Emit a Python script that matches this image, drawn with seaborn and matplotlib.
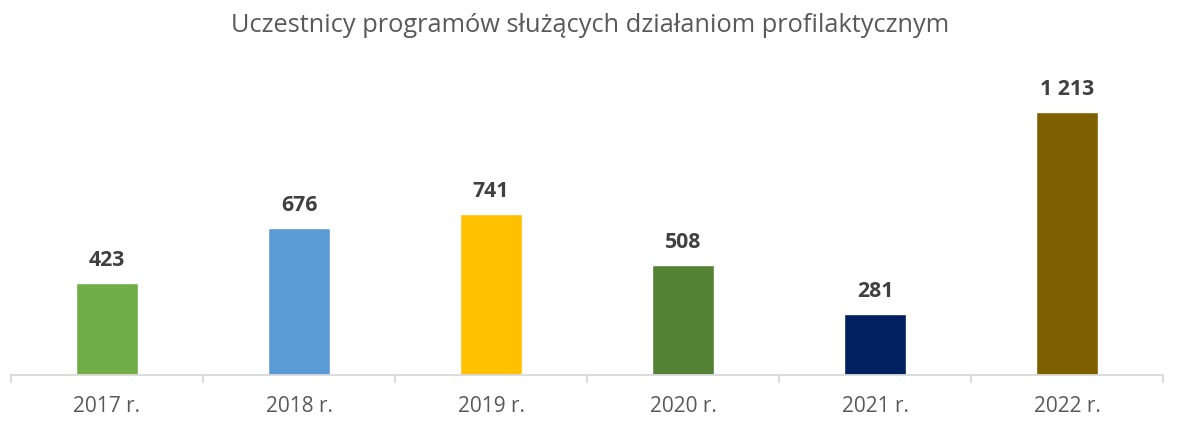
import matplotlib
matplotlib.use("Agg")
import matplotlib.pyplot as plt
import seaborn as sns
import pandas as pd

# Data
years = ["2017 r.", "2018 r.", "2019 r.", "2020 r.", "2021 r.", "2022 r."]
participants = [423, 676, 741, 508, 281, 1213]
colors = ["#70AD47", "#5B9BD5", "#FFC000", "#548235", "#002060", "#7F6000"]
title = "Uczestnicy programów służących działaniom profilaktycznym"

sns.set_theme(style="white")
plt.rcParams["font.family"] = ["Open Sans", "DejaVu Sans"]

df = pd.DataFrame({"year": years, "value": participants})

fig = plt.figure(figsize=(11.81, 4.34), dpi=100)
ax = fig.add_axes([0.0093, 0.136, 0.9755, 0.7004])

sns.barplot(data=df, x="year", y="value", hue="year", palette=colors,
            width=0.32, legend=False, ax=ax, saturation=1)

ax.set_ylim(0, 1400)
ax.set_xlim(-0.5, len(years) - 0.5)
ax.set_xlabel("")
ax.set_ylabel("")
ax.set_yticks([])

for s in ["top", "right", "left"]:
    ax.spines[s].set_visible(False)
ax.spines["bottom"].set_color("#D9D9D9")
ax.spines["bottom"].set_linewidth(1.3)

# category separators as small downward ticks
ax.set_xticks([i - 0.5 for i in range(len(years) + 1)], minor=True)
ax.tick_params(axis="x", which="minor", length=6, width=1.3, color="#D9D9D9",
               direction="out", bottom=True)
ax.tick_params(axis="x", which="major", length=0, pad=15,
               labelsize=15, labelcolor="#595959")

for i, v in enumerate(participants):
    label = f"{v:,}".replace(",", " ")
    ax.annotate(label, (i, v), xytext=(0, 12), textcoords="offset pixels",
                ha="center", va="bottom", fontsize=15.3, fontweight="bold",
                color="#404040")

fig.text(0.5, 0.942, title, ha="center", va="center", fontsize=18.3,
         color="#595959")

fig.savefig("out.png", dpi=100)
